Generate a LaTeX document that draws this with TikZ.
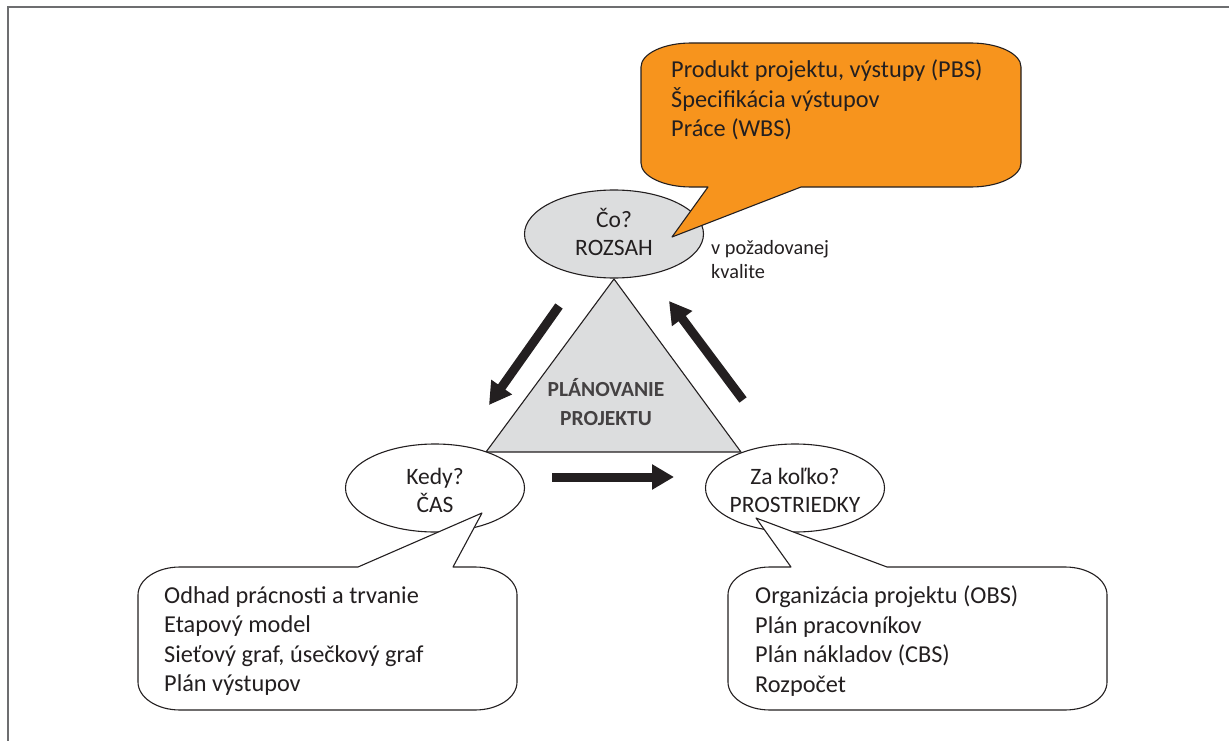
\documentclass[tikz,border=0pt]{standalone}
\usepackage{fontspec}
\setmainfont{Carlito}
\usetikzlibrary{shapes.geometric,arrows.meta}
\definecolor{ink}{HTML}{231F20}
\definecolor{shade}{HTML}{DCDDDE}
\definecolor{callorange}{HTML}{F7941D}
\definecolor{framegray}{HTML}{6D6E70}
\begin{document}
\begin{tikzpicture}[x=1pt,y=-1pt,
  outline/.style={draw=ink,line width=1.1pt,line join=round},
  bubble/.style={ellipse,outline,minimum width=179pt,minimum height=88pt,inner sep=0pt},
  bubbletext/.style={align=center,font=\fontsize{23.5}{28}\selectfont,text=ink},
  listtext/.style={align=left,anchor=north west,inner sep=0pt,font=\fontsize{24.3}{29.5}\selectfont,text=ink},
  flow/.style={draw=ink,line width=9pt,-{Triangle[length=22pt,width=24pt]}}
]
\useasboundingbox (0,0) rectangle (1229,741);
% page frame
\draw[framegray,line width=1.6pt] (8,741) -- (8,7) -- (1229,7);

% central triangle
\filldraw[fill=shade,outline] (614,279) -- (741,452) -- (486,452) -- cycle;
\node[font=\bfseries\fontsize{21.5}{29}\selectfont,text=ink!85,align=center] (plan) at (606,402) {PLÁNOVANIE\\PROJEKTU};

% the three bubbles
\node[bubble,fill=shade] (scope) at (614,234) {};
\node[bubbletext] at (614,232) {Čo?\\ROZSAH};
\node[bubble,fill=white] (time) at (435,488) {};
\node[bubbletext] at (435,490) {Kedy?\\ČAS};
\node[bubble,fill=white] (cost) at (795,488) {};
\node[bubbletext] at (795,490) {Za koľko?\\PROSTRIEDKY};

\node[anchor=north west,align=left,inner sep=0pt,font=\fontsize{20.3}{24.5}\selectfont,text=ink] (quality) at (711,240) {v požadovanej\\kvalite};

% cycle arrows
\coordinate (a1s) at (559,306);
\coordinate (a1e) at (489,405);
\coordinate (a2s) at (743,400);
\coordinate (a2e) at (669,301);
\coordinate (a3s) at (552,477);
\coordinate (a3e) at (674,477);
\draw[flow] (a1s) -- (a1e);
\draw[flow] (a2s) -- (a2e);
\draw[flow] (a3s) -- (a3e);

% callout for scope
\filldraw[fill=callorange,outline]
  (708,187) -- (672,237) -- (801,187) -- (971,187)
  .. controls (998.6,187) and (1021,176.2) .. (1021,163) -- (1021,67)
  .. controls (1021,53.8) and (998.6,43) .. (971,43) -- (691,43)
  .. controls (663.4,43) and (641,53.8) .. (641,67) -- (641,163)
  .. controls (641,176.2) and (663.4,187) .. (691,187) -- cycle;
\node[listtext] (scopelist) at (671,60) {Produkt projektu, výstupy (PBS)\\Špecifikácia výstupov\\Práce (WBS)};

% callout for time
\filldraw[fill=white,outline]
  (358,567) -- (482,513) -- (453,567) -- (475,567)
  .. controls (498.2,567) and (517,579.5) .. (517,595) -- (517,682)
  .. controls (517,697.5) and (498.2,710) .. (475,710) -- (180,710)
  .. controls (156.8,710) and (138,697.5) .. (138,682) -- (138,595)
  .. controls (138,579.5) and (156.8,567) .. (180,567) -- cycle;
\node[listtext] (timelist) at (164,586) {Odhad prácnosti a trvanie\\Etapový model\\Sieťový graf, úsečkový graf\\Plán výstupov};

% callout for resources
\filldraw[fill=white,outline]
  (791,567) -- (756,518) -- (887,567) -- (1065,567)
  .. controls (1088.2,567) and (1107,579.5) .. (1107,595) -- (1107,682)
  .. controls (1107,697.5) and (1088.2,710) .. (1065,710) -- (770,710)
  .. controls (746.8,710) and (728,697.5) .. (728,682) -- (728,595)
  .. controls (728,579.5) and (746.8,567) .. (770,567) -- cycle;
\node[listtext] (costlist) at (755,586) {Organizácia projektu (OBS)\\Plán pracovníkov\\Plán nákladov (CBS)\\Rozpočet};
\end{tikzpicture}
\end{document}
